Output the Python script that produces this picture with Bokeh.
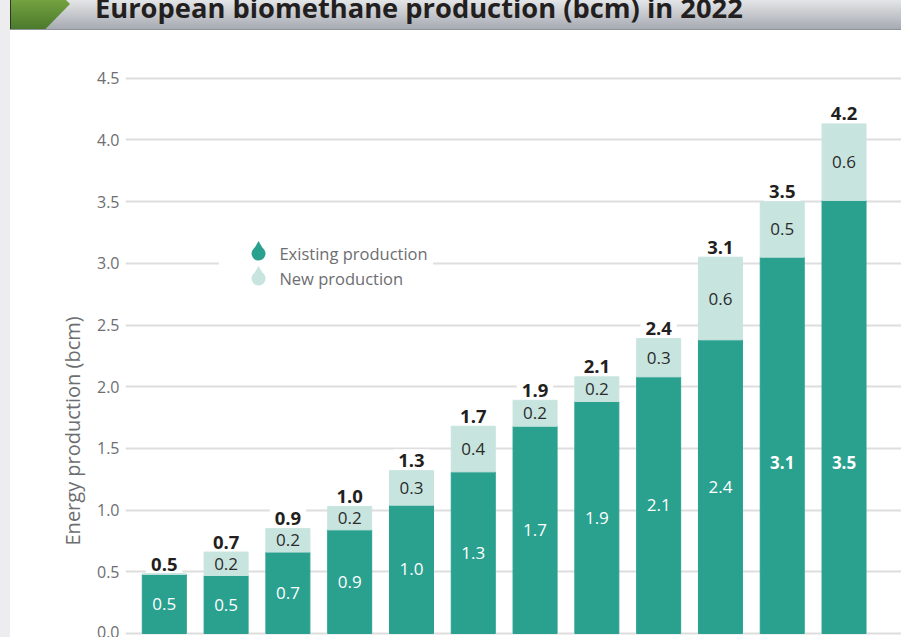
import numpy as np
from bokeh.plotting import figure
from bokeh.layouts import row, column
from bokeh.models import Range1d, FixedTicker, NumeralTickFormatter, Title, Div
from bokeh.core.properties import value
from bokeh.embed import file_html
from bokeh.resources import INLINE

# ---------------- data ----------------
title = "European biomethane production (bcm) in 2022"
y_axis_title = "Energy production (bcm)"
bar_index = [1, 2, 3, 4, 5, 6, 7, 8, 9, 10, 11, 12]
existing = [0.48, 0.47, 0.66, 0.84, 1.04, 1.31, 1.68, 1.88, 2.08, 2.38, 3.05, 3.51]
new = [0.0, 0.19, 0.19, 0.19, 0.28, 0.37, 0.21, 0.20, 0.31, 0.67, 0.45, 0.62]
existing_labels = ["0.5", "0.5", "0.7", "0.9", "1.0", "1.3", "1.7", "1.9", "2.1", "2.4", "3.1", "3.5"]
new_labels = ["", "0.2", "0.2", "0.2", "0.3", "0.4", "0.2", "0.2", "0.3", "0.6", "0.5", "0.6"]
total_labels = ["0.5", "0.7", "0.9", "1.0", "1.3", "1.7", "1.9", "2.1", "2.4", "3.1", "3.5", "4.2"]
y_ticks = [0.0, 0.5, 1.0, 1.5, 2.0, 2.5, 3.0, 3.5, 4.0, 4.5]
legend_labels = ["Existing production", "New production"]

# ---------------- styles ----------------
TEAL = "#2aa08f"
LIGHT = "#c8e4df"
GRID = "#dedede"
GREY_TXT = "#6d6e71"
DARK_TXT = "#231f20"
FONT = "Open Sans"
PX = 1 / 123.4  # one screen pixel in data units on the y axis
INNER_CAP = 1.385  # highest position of the labels inside the dark bars

totals = [e + n for e, n in zip(existing, new)]

# ---------------- left strip ----------------
strip = Div(width=10, height=637, margin=0,
            text='<div style="width:10px;height:637px;background:#ededef;"></div>',
            styles={"background-color": "#ededef"})

# ---------------- header ----------------
header_html = (
    '<div style="position:relative;width:891px;height:30px;overflow:hidden;box-sizing:border-box;'
    'background:linear-gradient(to bottom,#e4e5e7 0%,#a6aab2 100%);border-bottom:1px solid #8f949b;">'
    '<svg width="72" height="30" style="position:absolute;left:0;top:0;">'
    '<defs><linearGradient id="hdrgreen" x1="0" y1="0" x2="0" y2="1">'
    '<stop offset="0" stop-color="#74a240"/><stop offset="1" stop-color="#4a792c"/></linearGradient></defs>'
    '<polygon points="0,0 56,0 60,4 35,29.5 0,29.5" fill="url(#hdrgreen)"/>'
    '<polyline points="0.5,0 0.5,29.5 36,29.5" stroke="#2b3a22" stroke-width="1" fill="none"/>'
    '</svg>'
    '<span style="position:absolute;left:85px;top:-6px;font-family:\'Open Sans\';font-weight:bold;'
    'font-size:27.3px;line-height:27px;color:#231f20;white-space:nowrap;">' + title + '</span>'
    '</div>'
)
head = Div(width=891, height=30, margin=0, text=header_html)

# ---------------- main chart ----------------
p = figure(width=891, height=607, x_range=Range1d(0.372, 12.93), y_range=Range1d(-0.0324, 4.887),
           x_axis_location=None, min_border_left=115, min_border_right=0, min_border_top=0,
           min_border_bottom=0, output_backend="svg", toolbar_location=None)
p.outline_line_color = None
p.xgrid.visible = False
p.ygrid.grid_line_color = GRID
p.ygrid.grid_line_width = 2
p.ygrid.bounds = (0.437, 12.59)
p.ygrid.ticker = FixedTicker(ticks=y_ticks)

ax = p.yaxis[0]
ax.ticker = FixedTicker(ticks=y_ticks)
ax.formatter = NumeralTickFormatter(format="0.0")
ax.axis_line_color = None
ax.major_tick_line_color = None
ax.minor_tick_line_color = None
ax.major_tick_in = 0
ax.major_tick_out = 0
ax.major_label_standoff = 6
ax.major_label_text_font = FONT
ax.major_label_text_font_size = "16px"
ax.major_label_text_color = GREY_TXT

# y axis title as a left-side title, placed along the frame
p.add_layout(Title(text=y_axis_title, align="left", offset=92, standoff=16, text_font=FONT,
                   text_font_size="20px", text_font_style="normal", text_color=GREY_TXT), "left")

total_y = [t + 10 * PX for t in totals]

# white boxes behind the totals (they break the grid lines)
p.text(x=bar_index, y=total_y, text=total_labels, text_font=value(FONT),
       text_font_size=value("18.5px"), text_font_style="bold", text_alpha=0,
       text_align="center", text_baseline="alphabetic",
       background_fill_color="white", padding=5)

BAR_W = 0.712
p.vbar(x=bar_index, width=BAR_W, bottom=0, top=existing, color=TEAL)
p.vbar(x=bar_index, width=BAR_W, bottom=existing, top=totals, color=LIGHT)

# totals
p.text(x=bar_index, y=total_y, text=total_labels, text_font=value(FONT),
       text_font_size=value("18.5px"), text_font_style="bold", text_color=DARK_TXT,
       text_align="center", text_baseline="alphabetic")

# labels inside existing bars
inner_y = [min(e / 2, INNER_CAP) for e in existing]
inner_style = ["bold" if e / 2 > INNER_CAP else "normal" for e in existing]
p.text(x=bar_index, y=inner_y, text=existing_labels, text_font_style=inner_style,
       text_font=value(FONT), text_font_size=value("17px"), text_color="white",
       text_align="center", text_baseline="middle")
# labels inside new segments
p.text(x=bar_index, y=[e + n / 2 for e, n in zip(existing, new)], text=new_labels,
       text_font=value(FONT), text_font_size=value("17px"), text_color="#2b2b2b",
       text_align="center", text_baseline="middle")

# legend (drop shaped swatches)
lg_x, lg_y = 2.525, [3.079, 2.877]
p.quad(left=1.89, right=5.34, top=3.19, bottom=2.76, color="white")
p.scatter(x=[lg_x] * 2, y=lg_y, marker="circle", size=14, color=[TEAL, LIGHT], line_color=None)
p.scatter(x=[lg_x] * 2, y=[v + 0.05 for v in lg_y], marker="triangle", size=11,
          color=[TEAL, LIGHT], line_color=None)
p.text(x=[2.863] * 2, y=lg_y, text=legend_labels, text_font=value(FONT),
       text_font_size=value("16.5px"), text_color=GREY_TXT, text_baseline="middle")

layout = row(strip, column(head, p))
html = file_html(layout, INLINE, title="European biomethane production")
html = html.replace("</head>", "<style>html,body{margin:0;padding:0;overflow:hidden;}</style></head>", 1)
open("out.html", "w").write(html)
